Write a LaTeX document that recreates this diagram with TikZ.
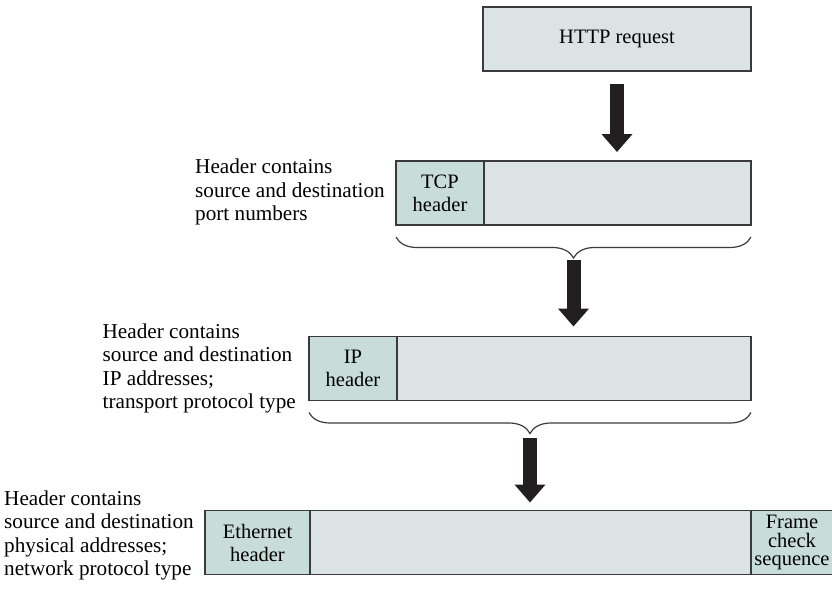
\documentclass[tikz,border=0pt]{standalone}
\usepackage{fontspec}
\setmainfont{Liberation Serif}
\usetikzlibrary{arrows.meta,positioning,calc,decorations.pathreplacing}
\definecolor{payload}{RGB}{220,227,229}
\definecolor{hdrfill}{RGB}{200,220,218}
\definecolor{edge}{RGB}{58,58,58}
\definecolor{arrowblk}{RGB}{35,31,32}

\begin{document}
\begin{tikzpicture}[x=1pt,y=-1pt,
  cell/.style={draw=edge,line width=1.3pt,fill=payload,inner sep=0pt,outer sep=0pt,
    minimum height=64pt,align=center,font=\fontsize{20.5}{23}\selectfont},
  hdr/.style={cell,fill=hdrfill},
  note/.style={inner sep=0pt,align=left,font=\fontsize{21.2}{23.5}\selectfont},
  brc/.style={draw=edge,line width=1.2pt,decorate,decoration={brace,mirror,amplitude=21pt}},
  bigarrow/.style={draw=arrowblk,line width=14pt,-{Triangle[width=30pt,length=18pt]}}]
  \useasboundingbox (0,0) rectangle (832,592);

  % application message
  \node[cell,minimum width=268pt] (http) at (617,39) {HTTP request};

  % TCP segment
  \node[hdr,minimum width=88pt] (tcph) at (440,193) {TCP\\header};
  \node[cell,minimum width=267pt,right=0pt of tcph] (tcpd) {};
  \node[note,left=11pt of tcph,yshift=1pt] (tcpnote) {Header contains\\source and destination\\port numbers};
  \draw[brc] ([yshift=-12pt]tcph.south west) -- ([yshift=-12pt]tcpd.south east);
  \coordinate (tcptip) at ($(tcph.south west)!0.5!(tcpd.south east)+(0,33)$);

  % IP datagram
  \node[hdr,minimum width=88pt] (iph) at (353,368.5) {IP\\header};
  \node[cell,minimum width=354pt,right=0pt of iph] (ipd) {};
  \node[note,left=13pt of iph] (ipnote) {Header contains\\source and destination\\IP addresses;\\transport protocol type};
  \draw[brc] ([yshift=-12pt]iph.south west) -- ([yshift=-12pt]ipd.south east);
  \coordinate (iptip) at ($(iph.south west)!0.5!(ipd.south east)+(0,33)$);

  % Ethernet frame
  \node[hdr,minimum width=105pt] (ethh) at (257.5,542.5) {Ethernet\\header};
  \node[cell,minimum width=441pt,right=0pt of ethh] (ethd) {};
  \node[hdr,minimum width=82pt,right=0pt of ethd,font=\fontsize{20.5}{18.5}\selectfont] (fcs) {Frame\\check\\sequence};
  \node[note,left=11pt of ethh,yshift=7pt] (ethnote) {Header contains\\source and destination\\physical addresses;\\network protocol type};

  % encapsulation steps
  \draw[bigarrow,shorten <=13pt,shorten >=9pt] (http.south) -- (http.south |- tcpd.north);
  \draw[bigarrow,shorten <=2pt,shorten >=10pt] (tcptip) -- (tcptip |- ipd.north);
  \draw[bigarrow,shorten <=4pt,shorten >=8pt] (iptip) -- (iptip |- ethd.north);
\end{tikzpicture}
\end{document}
